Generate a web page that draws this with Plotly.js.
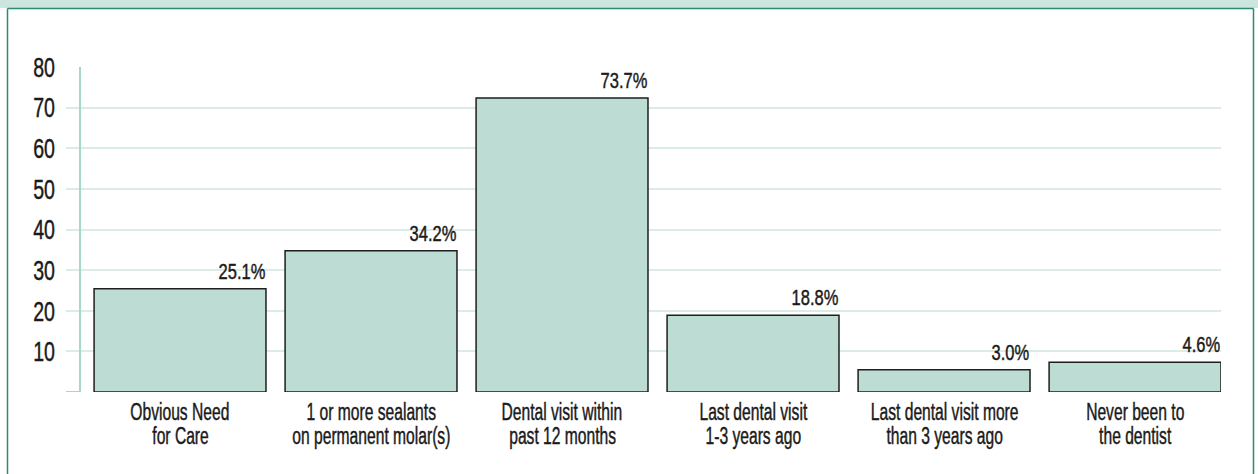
<!DOCTYPE html>
<html>
<head>
<meta charset="utf-8">
<script src="https://cdn.plot.ly/plotly-3.0.1.min.js"></script>
<style>
  html, body { margin: 0; padding: 0; background: #ffffff; }
  #chart { width: 1258px; height: 474px; }
</style>
</head>
<body>
<div id="chart"></div>
<script>
// ---- data ----
const categories = [
  "Obvious Need<br>for Care",
  "1 or more sealants<br>on permanent molar(s)",
  "Dental visit within<br>past 12 months",
  "Last dental visit<br>1-3 years ago",
  "Last dental visit more<br>than 3 years ago",
  "Never been to<br>the dentist"
];
const barHeights = [25.4, 34.8, 72.4, 18.9, 5.5, 7.3];
const valueLabels = ["25.1%", "34.2%", "73.7%", "18.8%", "3.0%", "4.6%"];
const yTickVals = [0, 10, 20, 30, 40, 50, 60, 70, 80];
const yTickText = ["", "10", "20", "30", "40", "50", "60", "70", "80"];

// ---- style ----
const FONT = '"Liberation Sans", Arial, sans-serif';
const INK = '#1a1a1a';
const W = 1258, H = 474;
const M = { l: 66, r: 37, t: 67, b: 82 };
const plotW = W - M.l - M.r, plotH = H - M.t - M.b;
const xRange = [-0.597, 5.45];
const px2paperX = px => (px - M.l) / plotW;
const px2paperY = py => 1 - (py - M.t) / plotH;
const px2dataX = px => xRange[0] + (px - M.l) / plotW * (xRange[1] - xRange[0]);

const trace = {
  type: 'bar',
  x: categories,
  y: barHeights,
  width: 0.9,
  marker: { color: '#bddcd3', line: { color: '#1e1e1e', width: 1.5 } },
  hoverinfo: 'skip'
};

// value labels above bars (right aligned to bar edge)
const valueAnns = categories.map((c, i) => ({
  x: c, y: barHeights[i], xref: 'x', yref: 'y',
  text: valueLabels[i], showarrow: false,
  xanchor: 'right', yanchor: 'bottom', xshift: 172 / 2 + 1, yshift: 3,
  font: { family: FONT, size: 22, color: INK }
}));

// category labels, one annotation per line so line spacing matches
const LINE_GAP = 24;
const catAnns = [];
categories.forEach(c => {
  c.split('<br>').forEach((line, k) => {
    catAnns.push({
      x: c, y: 0, xref: 'x', yref: 'y',
      text: line, showarrow: false,
      xanchor: 'center', yanchor: 'top', yshift: -5 - k * LINE_GAP,
      font: { family: FONT, size: 23, color: INK }
    });
  });
});

const axisX = px2dataX(80);
const shapes = [
  { type: 'line', xref: 'x', yref: 'y', x0: axisX, x1: axisX, y0: 0, y1: 80,
    line: { color: '#a6d7c7', width: 2 }, layer: 'above' },
  { type: 'line', xref: 'x', yref: 'y', x0: xRange[0], x1: axisX, y0: 0, y1: 0,
    line: { color: '#a6d7c7', width: 2 }, layer: 'above' },
  { type: 'rect', xref: 'paper', yref: 'paper',
    x0: px2paperX(-5), x1: px2paperX(W + 5), y0: px2paperY(-5), y1: px2paperY(8),
    fillcolor: '#cce5df', line: { width: 0 }, layer: 'below' },
  { type: 'line', xref: 'paper', yref: 'paper',
    x0: px2paperX(7.5), x1: px2paperX(1253.5), y0: px2paperY(8.5), y1: px2paperY(8.5),
    line: { color: '#2a8c6c', width: 1.5 } },
  { type: 'line', xref: 'paper', yref: 'paper',
    x0: px2paperX(7.5), x1: px2paperX(7.5), y0: px2paperY(8.5), y1: px2paperY(H + 5),
    line: { color: '#2a8c6c', width: 1.5 } },
  { type: 'line', xref: 'paper', yref: 'paper',
    x0: px2paperX(1253.5), x1: px2paperX(1253.5), y0: px2paperY(8.5), y1: px2paperY(H + 5),
    line: { color: '#2a8c6c', width: 1.5 } }
];

const layout = {
  width: W, height: H,
  margin: M,
  paper_bgcolor: '#ffffff', plot_bgcolor: '#ffffff',
  showlegend: false,
  bargap: 0.1,
  font: { family: FONT, color: INK },
  xaxis: {
    type: 'category', range: xRange,
    showgrid: false, zeroline: false, showline: false,
    ticks: '', showticklabels: false,
    fixedrange: true
  },
  yaxis: {
    range: [0, 80], tickvals: yTickVals, ticktext: yTickText,
    showgrid: true, gridcolor: '#dbece7', gridwidth: 2,
    zeroline: false, showline: false, ticks: '',
    ticklabelstandoff: 10,
    tickfont: { family: FONT, size: 28, color: INK },
    fixedrange: true
  },
  annotations: valueAnns.concat(catAnns),
  shapes: shapes
};

// horizontally condense text to imitate the narrow, medium-weight typeface of the original
function squeeze(nodes, sx, mode) {
  nodes.forEach(t => {
    const b = t.getBBox();
    const ax = mode === 'right' ? b.x + b.width : b.x + b.width / 2;
    const tr = t.getAttribute('transform') || '';
    t.setAttribute('transform', tr + ' translate(' + ax + ',0) scale(' + sx + ',1) translate(' + (-ax) + ',0)');
    t.style.stroke = INK;
    t.style.strokeWidth = '0.45px';
  });
}

Plotly.newPlot('chart', [trace], layout, { displayModeBar: false, staticPlot: true }).then(gd => {
  squeeze(gd.querySelectorAll('.ytick text'), 0.70, 'right');
  gd.querySelectorAll('.annotation').forEach(g => {
    const i = +g.getAttribute('data-index');
    const t = g.querySelectorAll('.annotation-text');
    if (i < valueAnns.length) squeeze(t, 0.75, 'right');
    else squeeze(t, 0.68, 'center');
  });
});
</script>
</body>
</html>
